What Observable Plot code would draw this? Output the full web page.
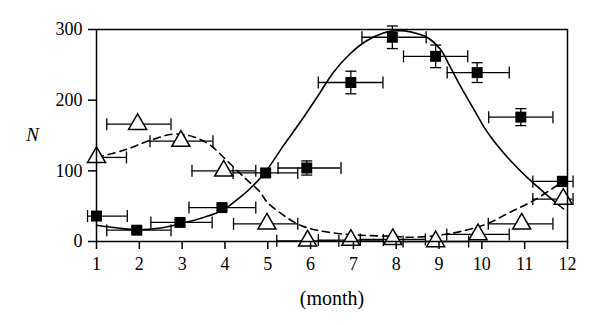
<!DOCTYPE html>
<html><head><meta charset="utf-8">
<script src="https://cdn.jsdelivr.net/npm/d3@7"></script>
<script src="https://cdn.jsdelivr.net/npm/@observablehq/plot@0.6"></script>
<style>html,body{margin:0;padding:0;background:#fff}</style>
</head><body><div id="chart"></div>
<script>
// x tick labels
const monthTicks = [1,2,3,4,5,6,7,8,9,10,11,12];
const nTicks = [0,100,200,300];

// filled squares: month, N, horizontal error extent, vertical error
const squareMonth = [1.0,1.94,2.95,3.93,4.95,5.91,6.94,7.91,8.92,9.89,10.91,11.88];
const squareN     = [36,16,27,48,97,104,225,289,262,239,176,85];
const squareXLo   = [0.79,1.24,2.27,3.16,4.19,5.24,6.18,7.20,8.17,9.19,10.16,11.19];
const squareXHi   = [1.72,2.74,3.70,4.72,5.70,6.71,7.69,8.70,9.67,10.64,11.66,12.13];
const squareNErr  = [4,4,4,4,5,10,16,16,16,14,12,7];

// open triangles: month, N, horizontal error extent
const triMonth = [1.0,1.96,2.97,3.97,4.98,5.93,6.94,7.92,8.92,9.91,10.93,11.9];
const triN     = [119,166,142,100,25,1,2,3,0,10,25,60];
const triXLo   = [1.0,1.24,2.25,3.23,4.20,5.21,6.18,7.16,8.16,9.18,10.15,11.19];
const triXHi   = [1.70,2.74,3.72,4.72,5.70,6.66,7.70,8.68,9.69,10.64,11.66,12.13];

// fitted curves
const solidMonth = [1.0,1.5,1.94,2.5,2.95,3.5,3.97,4.3,4.59,4.94,5.37,5.76,6.15,6.54,6.93,7.31,7.7,7.95,8.2,8.5,8.72,9.03,9.26,9.49,9.65,9.88,10.04,10.27,10.43,10.66,11.05,11.44,11.91];
const solidN     = [23,19,16.5,19,25,34,45,60,75,98,136,169,204,240,266,284,295,298,298,294,289,272,247,221,204,180,163,143,131,115,91,70,46];
const dashedMonth = [1.0,1.63,2.25,2.8,3.27,3.66,4.12,4.5,4.82,4.98,5.37,5.76,6.15,6.69,7.31,7.86,8.33,8.95,9.49,10.12,10.66,11.21,11.87];
const dashedN     = [119,129,143,152,148,136,110,88,70,56,37,23,16,11,8.5,7.5,6,8.5,14,25,41.5,58,84];

const squares = squareMonth.map((m,i)=>({m, n:squareN[i], lo:squareXLo[i], hi:squareXHi[i], e:squareNErr[i]}));
const tris = triMonth.map((m,i)=>({m, n:triN[i], lo:triXLo[i], hi:triXHi[i]}));
const solid = solidMonth.map((m,i)=>({m, n:solidN[i]}));
const dashed = dashedMonth.map((m,i)=>({m, n:dashedN[i]}));

const capV = {draw(ctx){ctx.moveTo(0,-6);ctx.lineTo(0,6);}};
const capH = {draw(ctx){ctx.moveTo(-5.5,0);ctx.lineTo(5.5,0);}};

const font = "'Liberation Serif', 'DejaVu Serif', serif";

const chart = Plot.plot({
  width: 600, height: 325,
  marginLeft: 96, marginRight: 33, marginTop: 29, marginBottom: 84,
  style: {fontFamily: font, fontSize: "18px", color: "#000", background: "#fff", overflow: "visible"},
  x: {domain: [1,12]},
  y: {domain: [0,300]},
  marks: [
    Plot.line(solid, {x:"m", y:"n", stroke:"#000", strokeWidth:1.6, curve:"catmull-rom"}),
    Plot.line(dashed, {x:"m", y:"n", stroke:"#000", strokeWidth:1.6, strokeDasharray:"7,5", curve:"catmull-rom"}),
    // horizontal error bars
    Plot.ruleY(squares, {y:"n", x1:"lo", x2:"hi", stroke:"#000", strokeWidth:1.3}),
    Plot.dot(squares, {x:"lo", y:"n", symbol:capV, stroke:"#000", strokeWidth:1.3, fill:"none"}),
    Plot.dot(squares, {x:"hi", y:"n", symbol:capV, stroke:"#000", strokeWidth:1.3, fill:"none"}),
    Plot.ruleY(tris, {y:"n", x1:"lo", x2:"hi", stroke:"#000", strokeWidth:1.3}),
    Plot.dot(tris, {x:"lo", y:"n", symbol:capV, stroke:"#000", strokeWidth:1.3, fill:"none"}),
    Plot.dot(tris, {x:"hi", y:"n", symbol:capV, stroke:"#000", strokeWidth:1.3, fill:"none"}),
    // vertical error bars
    Plot.ruleX(squares, {x:"m", y1:d=>d.n-d.e, y2:d=>d.n+d.e, stroke:"#000", strokeWidth:1.3}),
    Plot.dot(squares, {x:"m", y:d=>d.n-d.e, symbol:capH, stroke:"#000", strokeWidth:1.3, fill:"none"}),
    Plot.dot(squares, {x:"m", y:d=>d.n+d.e, symbol:capH, stroke:"#000", strokeWidth:1.3, fill:"none"}),
    // markers
    Plot.dot(tris, {x:"m", y:"n", symbol:"triangle", r:6.7, fill:"#fff", stroke:"#000", strokeWidth:1.5}),
    Plot.dot(squares, {x:"m", y:"n", symbol:"square", r:6.2, fill:"#000", stroke:"none"}),
    Plot.frame({stroke:"#000", strokeWidth:1.5}),
    Plot.axisX({ticks: monthTicks, tickFormat: d=>String(d), tickSize:8, tickPadding:8, fontSize:18, label:null, strokeWidth:1.5}),
    Plot.axisY({ticks: nTicks, tickSize:8, tickPadding:6, fontSize:18, label:null, strokeWidth:1.5}),
    Plot.text(["N"], {frameAnchor:"left", dx:-64, dy:-1, text:d=>d, fontStyle:"italic", fontSize:19, textAnchor:"middle"}),
    Plot.text(["(month)"], {frameAnchor:"bottom", dy:57, text:d=>d, fontSize:20, textAnchor:"middle", lineAnchor:"middle"})
  ]
});
document.getElementById("chart").append(chart);
</script>
</body></html>
